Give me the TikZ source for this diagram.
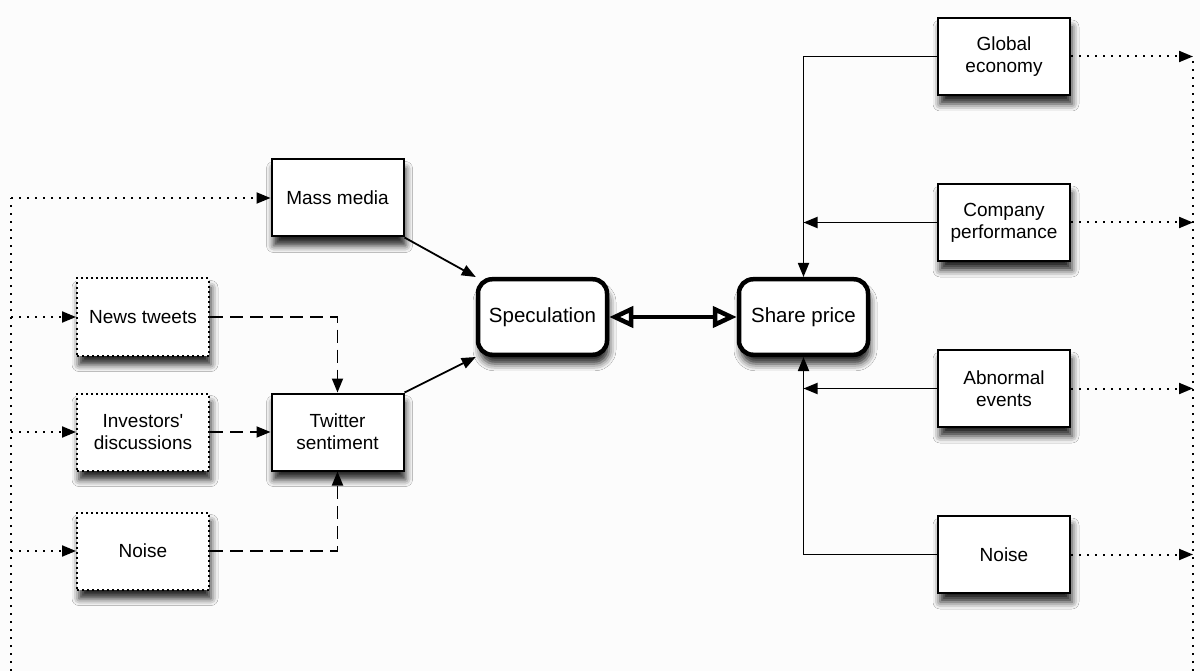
\documentclass[tikz,border=0pt]{standalone}
\usepackage{fontspec}
\setmainfont{Liberation Sans}
\usetikzlibrary{arrows.meta,shadows.blur}

\definecolor{paper}{RGB}{252,252,252}

\begin{document}
\begin{tikzpicture}[x=1pt, y=-1pt, node distance=166pt,
    >={Triangle[length=14pt,width=11pt]},
    every node/.style={font=\fontsize{19}{22}\selectfont, align=center},
    factor/.style={draw, line width=2pt, fill=white, minimum width=132pt, minimum height=77pt,
      blur shadow={shadow xshift=2pt, shadow yshift=-9pt, shadow blur radius=7pt, shadow opacity=85}},
    source/.style={factor, dash pattern=on 2pt off 3pt},
    hub/.style={draw, line width=4.5pt, rounded corners=14pt, fill=white, minimum width=129pt, minimum height=75.5pt,
      font=\fontsize{20.5}{24}\selectfont,
      blur shadow={shadow xshift=2pt, shadow yshift=-9pt, shadow blur radius=7pt, shadow opacity=85}},
    link/.style={line width=1.8pt},
    dotlink/.style={line width=2pt, dash pattern=on 2pt off 6pt},
    dashlink/.style={line width=1.8pt, dash pattern=on 13pt off 7pt}]
  \useasboundingbox (0,0) rectangle (1200,671);
  \fill[paper] (0,0) rectangle (1200,671);

  % Central nodes
  \node[hub] (spec) at (542.5,317) {Speculation};
  \node[hub, right of=spec, node distance=261pt] (share) {Share price};

  % Twitter side
  \node[source, left of=spec, node distance=399.5pt] (news) {News tweets};
  \node[source, below of=news, node distance=115pt] (inv) {Investors\textquotesingle\\discussions};
  \node[source, below of=inv, node distance=119pt] (noiseL) {Noise};
  \node[factor, right of=inv, node distance=194.5pt] (twit) {Twitter\\sentiment};
  \node[factor, above of=twit, node distance=234pt] (mass) {Mass media};

  % Market side
  \node[factor] (glob) at (1004,56.5) {Global\\economy};
  \node[factor, below of=glob] (comp) {Company\\performance};
  \node[factor, below of=comp] (abn) {Abnormal\\events};
  \node[factor, below of=abn] (noiseR) {Noise};

  % outer dotted lines
  \coordinate (lline) at (11,671);
  \coordinate (rline) at (1193,671);
  \draw[dotlink] (lline) -- (lline |- mass);
  \draw[dotlink, ->] (lline |- mass) -- (mass);
  \draw[dotlink, ->] (lline |- news) -- (news);
  \draw[dotlink, ->] (lline |- inv) -- (inv);
  \draw[dotlink, ->] (lline |- noiseL) -- (noiseL);

  \draw[dotlink] (rline) -- (rline |- glob);
  \draw[dotlink, ->] (glob) -- (rline |- glob);
  \draw[dotlink, ->] (comp) -- (rline |- comp);
  \draw[dotlink, ->] (abn) -- (rline |- abn);
  \draw[dotlink, ->] (noiseR) -- (rline |- noiseR);

  % into Twitter sentiment
  \draw[dashlink, ->] (news) -| (twit);
  \draw[dashlink, ->] (inv) -- (twit);
  \draw[dashlink, ->] (noiseL) -| (twit);

  % into Speculation
  \draw[link, ->] (mass.south east) -- (spec.north west);
  \draw[link, ->] (twit.north east) -- (spec.south west);

  \draw[line width=4.5pt, {Triangle[length=24pt,width=21pt,fill=white]}-{Triangle[length=24pt,width=21pt,fill=white]}] (spec) -- (share);

  % into Share price
  \draw[link, ->] (glob) -| (share);
  \draw[link, ->] (comp) -- (comp -| share);
  \draw[link, ->] (abn) -- (abn -| share);
  \draw[link, ->] (noiseR) -| (share);
\end{tikzpicture}
\end{document}
